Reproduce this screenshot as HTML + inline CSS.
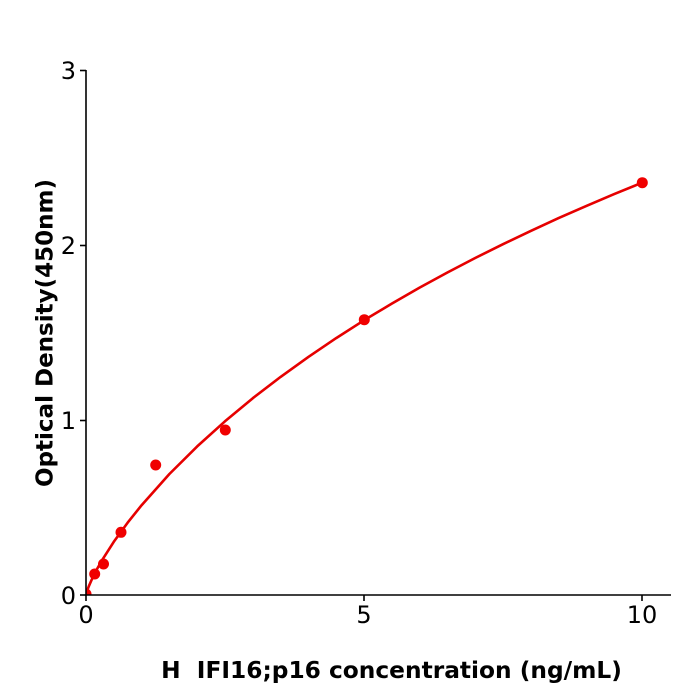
<!DOCTYPE html>
<html>
<head>
<meta charset="utf-8">
<style>
html,body{margin:0;padding:0;background:#fff;}
svg{display:block;}
text{font-family:"DejaVu Sans","Liberation Sans",sans-serif;fill:#000;}
</style>
</head>
<body>
<svg width="700" height="700" viewBox="0 0 700 700" xmlns="http://www.w3.org/2000/svg">
<defs>
<clipPath id="ax"><rect x="86" y="40" width="600" height="555"/></clipPath>
</defs>
<rect width="700" height="700" fill="#fff"/>
<g clip-path="url(#ax)">
<polyline fill="none" stroke="#e60000" stroke-width="2.6" stroke-linejoin="round" stroke-linecap="round"
points="86,595 87.1,590.8 88.8,586.3 91.6,579.9 97.1,568.9 102.7,559.2 113.8,541.8 127.7,522.6 141.6,505.2 169.4,474.0 197.2,446.4 225,421.3 252.8,398.2 280.6,376.9 308.4,356.9 336.2,338.1 364,320.3 391.8,303.6 419.6,287.6 447.4,272.5 475.2,258.0 503,244.2 530.8,230.9 558.6,218.1 586.4,205.9 614.2,194.1 642,182.7"/>
<g fill="#f00000">
<circle cx="86" cy="594" r="5.5"/>
<circle cx="94.7" cy="574" r="5.5"/>
<circle cx="103.5" cy="564" r="5.5"/>
<circle cx="121" cy="532.3" r="5.5"/>
<circle cx="155.7" cy="465" r="5.5"/>
<circle cx="225.3" cy="430" r="5.5"/>
<circle cx="364.3" cy="319.7" r="5.5"/>
<circle cx="642.3" cy="182.7" r="5.5"/>
</g>
</g>
<g stroke="#000" stroke-width="1.6" fill="none">
<line x1="86" y1="70" x2="86" y2="595.8"/>
<line x1="85.2" y1="595" x2="671" y2="595"/>
<line x1="80" y1="70.5" x2="86" y2="70.5"/>
<line x1="80" y1="245.5" x2="86" y2="245.5"/>
<line x1="80" y1="420.5" x2="86" y2="420.5"/>
<line x1="80" y1="595" x2="86" y2="595"/>
<line x1="86" y1="595" x2="86" y2="601"/>
<line x1="364" y1="595" x2="364" y2="601"/>
<line x1="642" y1="595" x2="642" y2="601"/>
</g>
<g font-size="24" text-anchor="end">
<text x="76" y="79">3</text>
<text x="76" y="254">2</text>
<text x="76" y="429">1</text>
<text x="76" y="604">0</text>
</g>
<g font-size="24" text-anchor="middle">
<text x="86" y="623">0</text>
<text x="364" y="623">5</text>
<text x="642" y="623">10</text>
</g>
<text x="391.5" y="678" font-size="23.3" font-weight="bold" text-anchor="middle" xml:space="preserve" style="white-space:pre">H  IFI16;p16 concentration (ng/mL)</text>
<text transform="translate(52.5,333) rotate(-90)" font-size="23" font-weight="bold" text-anchor="middle">Optical Density(450nm)</text>
</svg>
</body>
</html>
